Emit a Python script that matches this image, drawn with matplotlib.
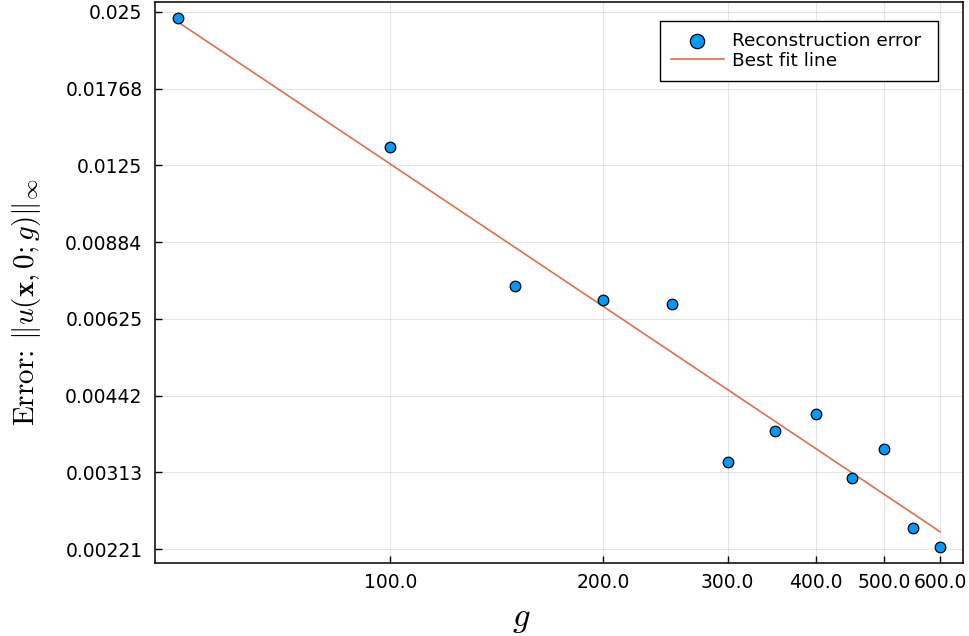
import numpy as np
import matplotlib
matplotlib.use("Agg")
import matplotlib.pyplot as plt
from matplotlib.ticker import FixedLocator, FixedFormatter, NullLocator

plt.rcParams['mathtext.fontset'] = 'cm'
plt.rcParams['font.family'] = ['DejaVu Sans']

g = [50, 100, 150, 200, 250, 300, 350, 400, 450, 500, 550, 600]
err = [0.02433, 0.01359, 0.00724, 0.00680, 0.00668, 0.003275,
       0.00377, 0.00407, 0.003048, 0.003475, 0.002433, 0.00223]

xticks = [100, 200, 300, 400, 500, 600]
xtick_labels = ["100.0", "200.0", "300.0", "400.0", "500.0", "600.0"]
yticks = [0.025, 0.01768, 0.0125, 0.00884, 0.00625, 0.00442, 0.00313, 0.00221]
ytick_labels = ["0.025", "0.01768", "0.0125", "0.00884", "0.00625", "0.00442", "0.00313", "0.00221"]

lg = np.log10(g)
le = np.log10(err)
slope, intercept = np.polyfit(lg, le, 1)
fit = 10 ** (intercept + slope * lg)

fig = plt.figure(figsize=(9.69, 6.36), dpi=100)
ax = fig.add_axes([155/969, 1 - 563/636, (963-155)/969, (563-2)/636])

ax.plot(g, fit, color='#E26F46', lw=1.2, label='Best fit line', zorder=2)
ax.scatter(g, err, s=58, color='#009AFA', edgecolors='black', linewidths=0.9,
           label='Reconstruction error', zorder=3)

ax.set_xscale('log')
ax.set_yscale('log')

allx = np.log10(g)
ally = np.log10(np.concatenate([err, fit]))
px = 0.03 * (allx.max() - allx.min())
py = 0.03 * (ally.max() - ally.min())
ax.set_xlim(10 ** (allx.min() - px), 10 ** (allx.max() + px))
ax.set_ylim(10 ** (ally.min() - py), 10 ** (ally.max() + py))

ax.xaxis.set_major_locator(FixedLocator(xticks))
ax.xaxis.set_major_formatter(FixedFormatter(xtick_labels))
ax.xaxis.set_minor_locator(NullLocator())
ax.yaxis.set_major_locator(FixedLocator(yticks))
ax.yaxis.set_major_formatter(FixedFormatter(ytick_labels))
ax.yaxis.set_minor_locator(NullLocator())

ax.tick_params(axis='both', direction='in', length=5, width=1, labelsize=13.5)
ax.tick_params(axis='y', pad=9)
ax.tick_params(axis='x', pad=7)
ax.grid(True, color='black', alpha=0.1, lw=0.8)
for s in ax.spines.values():
    s.set_linewidth(1.1)

fig.text(521/969, 1 - 618/636, r'$g$', fontsize=25, ha='center', va='center')
fig.text(27/969, 1 - 302/636, r'Error: $\|u(\mathbf{x},0;g)\|_\infty$',
         fontsize=21, rotation=90, ha='center', va='center', family='cmr10')

sc = ax.collections[0]
ln = ax.lines[0]
leg = ax.legend(handles=[sc, ln], labels=['Reconstruction error ', 'Best fit line'],
                loc='upper left',
                bbox_to_anchor=(660/969, 1 - 21/636), bbox_transform=fig.transFigure,
                fontsize=13.3, frameon=True, fancybox=False, edgecolor='black',
                framealpha=1, borderpad=0.6, labelspacing=0.1, handlelength=2.85,
                handletextpad=0.45, borderaxespad=0, markerscale=1.35)
leg.get_frame().set_linewidth(1.0)

fig.savefig('out.png', dpi=100)
